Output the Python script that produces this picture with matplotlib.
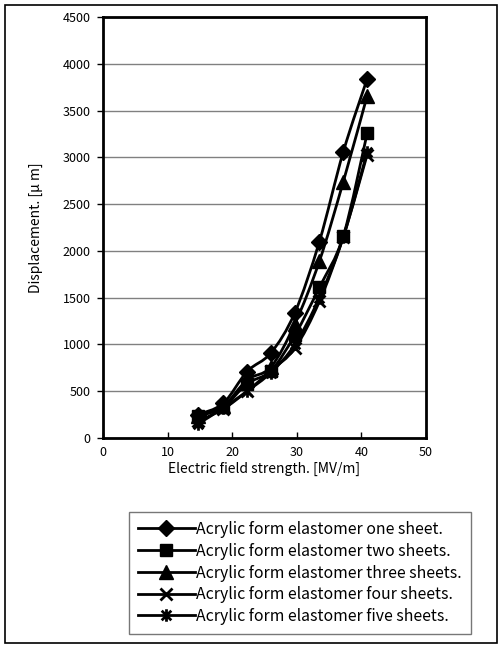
import matplotlib
matplotlib.use("Agg")
import matplotlib.pyplot as plt
import numpy as np
from matplotlib.path import Path
from matplotlib.patches import PathPatch, Rectangle
from matplotlib.lines import Line2D

plt.rcParams['font.family'] = ['Noto Sans CJK JP', 'DejaVu Sans']

field = [14.7, 18.6, 22.3, 26.0, 29.7, 33.5, 37.2, 40.9]
one_sheet = [250, 370, 710, 910, 1340, 2100, 3060, 3840]
two_sheets = [230, 330, 580, 720, 1100, 1610, 2160, 3260]
three_sheets = [240, 340, 620, 760, 1220, 1890, 2740, 3660]
four_sheets = [180, 310, 500, 720, 960, 1460, 2150, 3030]
five_sheets = [150, 320, 500, 700, 1000, 1500, 2150, 3060]

labels = ["Acrylic form elastomer one sheet.",
          "Acrylic form elastomer two sheets.",
          "Acrylic form elastomer three sheets.",
          "Acrylic form elastomer four sheets.",
          "Acrylic form elastomer five sheets."]
x_ticks = [0, 10, 20, 30, 40, 50]
y_ticks = [0, 500, 1000, 1500, 2000, 2500, 3000, 3500, 4000, 4500]

aster = Path([(-1, -1), (1, 1), (-1, 1), (1, -1), (0, -1.3), (0, 1.3)],
             [Path.MOVETO, Path.LINETO, Path.MOVETO, Path.LINETO, Path.MOVETO, Path.LINETO])

styles = [
    dict(marker='D', ms=8.5, mfc='black', mec='black', mew=1),
    dict(marker='s', ms=9, mfc='black', mec='black', mew=1),
    dict(marker='^', ms=10, mfc='black', mec='black', mew=1),
    dict(marker='x', ms=8.5, mfc='none', mec='black', mew=2),
    dict(marker=aster, ms=9, mfc='none', mec='black', mew=2),
]

W, H = 502, 648
fig = plt.figure(figsize=(W / 100, H / 100), dpi=100)
fig.patches.append(Rectangle((5 / W, 5 / H), 492 / W, 638 / H, transform=fig.transFigure,
                             fill=False, edgecolor='black', linewidth=1.2))

ax = fig.add_axes([103 / W, 1 - 438 / H, 323 / W, 421 / H])
ax.set_xlim(0, 50)
ax.set_ylim(0, 4500)
ax.set_xticks(x_ticks)
ax.set_yticks(y_ticks)
ax.yaxis.grid(True, color='#808080', linewidth=1)
ax.set_axisbelow(True)
for s in ax.spines.values():
    s.set_linewidth(2)
ax.tick_params(axis='x', direction='in', length=4, width=1, labelsize=9, pad=6)
ax.tick_params(axis='y', direction='out', length=4, width=1, labelsize=9, pad=5)
ax.set_xlabel("Electric field strength. [MV/m]", fontsize=10, labelpad=2)
ax.set_ylabel("Displacement. [\u03bc m]", fontsize=10, labelpad=14)


def smooth_path(xs, ys):
    pts = np.column_stack([xs, ys]).astype(float)
    n = len(pts)
    verts = [pts[0]]
    codes = [Path.MOVETO]
    for i in range(n - 1):
        p0 = pts[i - 1] if i > 0 else pts[i]
        p1 = pts[i]
        p2 = pts[i + 1]
        p3 = pts[i + 2] if i + 2 < n else pts[i + 1]
        c1 = p1 + (p2 - p0) / 6.0
        c2 = p2 - (p3 - p1) / 6.0
        verts += [c1, c2, p2]
        codes += [Path.CURVE4] * 3
    return Path(verts, codes)


series = [one_sheet, two_sheets, three_sheets, four_sheets, five_sheets]
handles = []
for ys, st, lab in zip(series, styles, labels):
    ax.add_patch(PathPatch(smooth_path(field, ys), fill=False, edgecolor='black',
                           linewidth=2, zorder=3))
    ax.plot(field, ys, linestyle='none', zorder=4, **st)
    handles.append(Line2D([], [], color='black', linewidth=2, **st))

leg = fig.legend(handles, labels, loc='center', bbox_to_anchor=(300 / W, 1 - 573 / H),
                 fontsize=11.4, frameon=True, fancybox=False, handlelength=3.6,
                 handletextpad=0.1, labelspacing=0.3, borderpad=0.55, borderaxespad=0)
leg.get_frame().set_edgecolor('#555555')
leg.get_frame().set_linewidth(1)

fig.savefig("out.png", dpi=100)
